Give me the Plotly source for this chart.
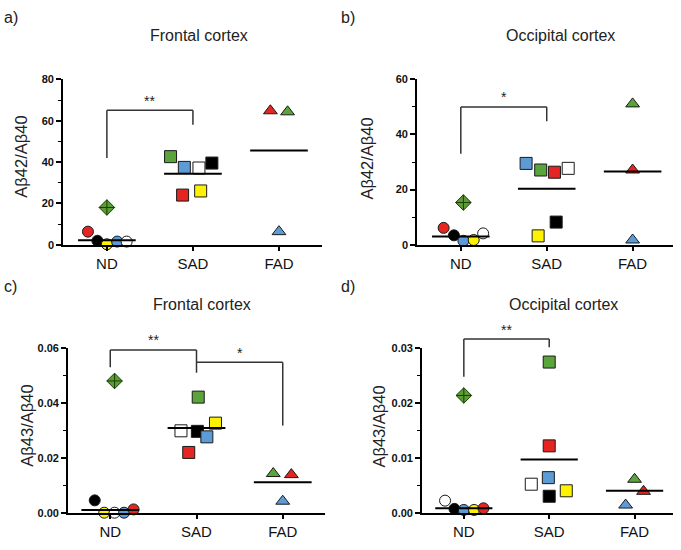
import plotly.graph_objects as go

# ---------------- data ----------------
CATEGORIES = ["ND", "SAD", "FAD"]
RED, GREEN, BLUE, YELLOW, BLACK, WHITE = "#E52521", "#5BA33B", "#5D9BD6", "#FFF200", "#000000", "#FFFFFF"
DIAMOND_GREEN = "#5A9E2F"

PANEL_TITLES = ["Frontal cortex", "Occipital cortex", "Frontal cortex", "Occipital cortex"]
PANEL_LABELS = ["a)", "b)", "c)", "d)"]
Y_TITLES = ["Aβ42/Aβ40", "Aβ42/Aβ40", "Aβ43/Aβ40", "Aβ43/Aβ40"]
Y_MAX = [80, 60, 0.06, 0.03]
Y_MAJOR = [[0, 20, 40, 60, 80], [0, 20, 40, 60], [0, 0.02, 0.04, 0.06], [0, 0.01, 0.02, 0.03]]
Y_MINOR = [[10, 30, 50, 70], [10, 30, 50], [0.01, 0.03, 0.05], [0.005, 0.015, 0.025]]
Y_FORMAT = ["d", "d", ".2f", ".2f"]

# Panel a: Abeta42/Abeta40, frontal
A_ND_COLORS = [RED, BLACK, YELLOW, BLUE, WHITE]
A_ND_JITTER = [-0.22, -0.11, 0.0, 0.12, 0.23]
A_ND_VALUES = [6.3, 1.9, 0.2, 1.5, 1.5]
A_ND_DIAMOND_JITTER, A_ND_DIAMOND = 0.0, 18.0
A_SAD_COLORS = [GREEN, BLUE, WHITE, BLACK, RED, YELLOW]
A_SAD_JITTER = [-0.26, -0.10, 0.07, 0.22, -0.12, 0.09]
A_SAD_VALUES = [42.6, 37.4, 37.1, 39.5, 24.0, 26.0]
A_FAD_COLORS = [RED, GREEN, BLUE]
A_FAD_JITTER = [-0.10, 0.10, 0.0]
A_FAD_VALUES = [64.8, 64.3, 6.3]
A_MEANS = [2.2, 34.3, 45.6]

# Panel b: Abeta42/Abeta40, occipital
B_ND_COLORS = [RED, BLACK, BLUE, YELLOW, WHITE]
B_ND_JITTER = [-0.20, -0.08, 0.03, 0.15, 0.26]
B_ND_VALUES = [6.1, 3.4, 1.4, 1.7, 4.1]
B_ND_DIAMOND_JITTER, B_ND_DIAMOND = 0.03, 15.3
B_SAD_COLORS = [BLUE, GREEN, RED, WHITE, BLACK, YELLOW]
B_SAD_JITTER = [-0.24, -0.07, 0.09, 0.25, 0.11, -0.10]
B_SAD_VALUES = [29.5, 27.1, 26.3, 27.7, 8.2, 3.2]
B_FAD_COLORS = [GREEN, RED, BLUE]
B_FAD_JITTER = [0.0, 0.0, 0.0]
B_FAD_VALUES = [51.1, 27.1, 1.7]
B_MEANS = [3.0, 20.3, 26.6]

# Panel c: Abeta43/Abeta40, frontal
C_ND_COLORS = [BLACK, YELLOW, WHITE, BLUE, RED]
C_ND_JITTER = [-0.18, -0.07, 0.05, 0.16, 0.27]
C_ND_VALUES = [0.0045, 0.0, 0.0, 0.0, 0.0012]
C_ND_DIAMOND_JITTER, C_ND_DIAMOND = 0.05, 0.0481
C_SAD_COLORS = [GREEN, WHITE, BLACK, YELLOW, BLUE, RED]
C_SAD_JITTER = [0.02, -0.18, 0.01, 0.22, 0.12, -0.09]
C_SAD_VALUES = [0.0422, 0.0299, 0.0297, 0.0327, 0.0277, 0.0220]
C_FAD_COLORS = [GREEN, RED, BLUE]
C_FAD_JITTER = [-0.11, 0.10, 0.0]
C_FAD_VALUES = [0.0143, 0.0139, 0.0042]
C_MEANS = [0.001, 0.0309, 0.0111]

# Panel d: Abeta43/Abeta40, occipital
D_ND_COLORS = [WHITE, BLACK, BLUE, YELLOW, RED]
D_ND_JITTER = [-0.22, -0.11, 0.0, 0.12, 0.23]
D_ND_VALUES = [0.0022, 0.0007, 0.0005, 0.0005, 0.0008]
D_ND_DIAMOND_JITTER, D_ND_DIAMOND = 0.0, 0.0214
D_SAD_COLORS = [GREEN, RED, WHITE, BLUE, BLACK, YELLOW]
D_SAD_JITTER = [0.0, 0.0, -0.21, -0.01, 0.0, 0.20]
D_SAD_VALUES = [0.0275, 0.0122, 0.0052, 0.0064, 0.0030, 0.0040]
D_FAD_COLORS = [GREEN, RED, BLUE]
D_FAD_JITTER = [0.0, 0.105, -0.105]
D_FAD_VALUES = [0.0061, 0.0039, 0.0014]
D_MEANS = [0.00083, 0.0097, 0.0040]

# significance brackets: (x_left, x_right, y_left_bottom, y_top, y_right_bottom, y_star, label)
A_BRACKETS = [(0, 1, 42, 65, 58, 69.5, "**")]
B_BRACKETS = [(0, 1, 33, 50, 44.8, 53.5, "*")]
C_BRACKETS = [(0, 1, 0.0531, 0.0594, 0.0511, 0.0630, "**"),
              (1, 2, None, 0.0549, 0.0318, 0.0582, "*")]
D_BRACKETS = [(0, 1, 0.0248, 0.0317, 0.0302, 0.0334, "**")]

PANELS = [
    (A_ND_COLORS, A_ND_JITTER, A_ND_VALUES, A_ND_DIAMOND_JITTER, A_ND_DIAMOND,
     A_SAD_COLORS, A_SAD_JITTER, A_SAD_VALUES, A_FAD_COLORS, A_FAD_JITTER, A_FAD_VALUES, A_MEANS, A_BRACKETS),
    (B_ND_COLORS, B_ND_JITTER, B_ND_VALUES, B_ND_DIAMOND_JITTER, B_ND_DIAMOND,
     B_SAD_COLORS, B_SAD_JITTER, B_SAD_VALUES, B_FAD_COLORS, B_FAD_JITTER, B_FAD_VALUES, B_MEANS, B_BRACKETS),
    (C_ND_COLORS, C_ND_JITTER, C_ND_VALUES, C_ND_DIAMOND_JITTER, C_ND_DIAMOND,
     C_SAD_COLORS, C_SAD_JITTER, C_SAD_VALUES, C_FAD_COLORS, C_FAD_JITTER, C_FAD_VALUES, C_MEANS, C_BRACKETS),
    (D_ND_COLORS, D_ND_JITTER, D_ND_VALUES, D_ND_DIAMOND_JITTER, D_ND_DIAMOND,
     D_SAD_COLORS, D_SAD_JITTER, D_SAD_VALUES, D_FAD_COLORS, D_FAD_JITTER, D_FAD_VALUES, D_MEANS, D_BRACKETS),
]

# ---------------- layout geometry (pixels in a 681x550 canvas) ----------------
W, H = 681, 550
PLOT_BOXES = [(63, 322, 75, 244), (417, 673, 75, 244), (68, 325, 350, 518), (422, 673, 350, 518)]
X_RANGES = [(-0.51, 2.5), (-0.51, 2.47), (-0.49, 2.49), (-0.49, 2.45)]
TITLE_POS = [(199, 30), (560, 30), (202, 305), (563, 305)]
LABEL_POS = [(2, 12), (339, 12), (2, 287), (339, 287)]
YTITLE_POS = [(21, 154), (367, 156), (27, 429), (379, 430)]

FONT = "Liberation Sans, Arial, sans-serif"
MEAN_HALF = 0.335
MARKER_LINE = dict(color="#1a1a1a", width=1)

fig = go.Figure()
layout = dict(
    width=W, height=H, margin=dict(l=0, r=0, t=0, b=0, pad=0),
    paper_bgcolor="white", plot_bgcolor="white", showlegend=False,
    font=dict(family=FONT, color="#111"),
)
shapes, annotations = [], []

for i, p in enumerate(PANELS):
    (nd_c, nd_j, nd_v, dj, dv, sad_c, sad_j, sad_v, fad_c, fad_j, fad_v, means, brackets) = p
    n = "" if i == 0 else str(i + 1)
    xa, ya = "x" + n, "y" + n
    x0, x1, yt, yb = PLOT_BOXES[i]

    groups = [
        (0, "circle", nd_c, nd_j, nd_v, 11),
        (1, "square", sad_c, sad_j, sad_v, 12),
        (2, "triangle-up", fad_c, fad_j, fad_v, 12),
    ]
    for cat, sym, cols, jit, vals, size in groups:
        fig.add_trace(go.Scatter(
            x=[cat + j for j in jit], y=vals, mode="markers", xaxis=xa, yaxis=ya,
            cliponaxis=False, hoverinfo="skip",
            marker=dict(symbol=sym, size=size, color=cols, line=MARKER_LINE),
        ))
    fig.add_trace(go.Scatter(
        x=[0 + dj], y=[dv], mode="markers", xaxis=xa, yaxis=ya, cliponaxis=False,
        marker=dict(symbol="diamond-cross", size=12, color=DIAMOND_GREEN,
                    line=dict(color="#1d3b0c", width=1)),
    ))

    # group means
    for cat, m in enumerate(means):
        shapes.append(dict(type="line", xref=xa, yref=ya, x0=cat - MEAN_HALF, x1=cat + MEAN_HALF,
                           y0=m, y1=m, line=dict(color="black", width=2), layer="above"))

    # significance brackets (y in domain fraction so they are not clipped)
    ymax = Y_MAX[i]
    for (bl, br, ylb, ytop, yrb, ystar, lab) in brackets:
        pts = []
        if ylb is not None:
            pts.append((bl, ylb))
        pts += [(bl, ytop), (br, ytop), (br, yrb)]
        for (ax0, ay0), (ax1, ay1) in zip(pts[:-1], pts[1:]):
            shapes.append(dict(type="line", xref=xa, yref=ya + " domain",
                               x0=ax0, x1=ax1, y0=ay0 / ymax, y1=ay1 / ymax,
                               line=dict(color="#333", width=1.5)))
        annotations.append(dict(text=lab, xref=xa, yref=ya + " domain", x=(bl + br) / 2,
                                y=ystar / ymax, showarrow=False, font=dict(size=14, color="#222"),
                                xanchor="center", yanchor="middle"))

    layout["xaxis" + n] = dict(
        domain=[x0 / W, x1 / W], anchor=ya, range=list(X_RANGES[i]),
        tickmode="array", tickvals=[0, 1, 2], ticktext=CATEGORIES,
        showline=True, linecolor="black", linewidth=1.6, ticks="outside", ticklen=5,
        tickwidth=1.6, tickcolor="black", showgrid=False, zeroline=False,
        tickfont=dict(size=15, family=FONT, color="#111"), fixedrange=True,
    )
    layout["yaxis" + n] = dict(
        domain=[1 - yb / H, 1 - yt / H], anchor=xa, range=[0, ymax],
        tickmode="array", tickvals=Y_MAJOR[i], tickformat=Y_FORMAT[i],
        showline=True, linecolor="black", linewidth=1.6, ticks="outside", ticklen=5,
        tickwidth=1.6, tickcolor="black", showgrid=False, zeroline=False,
        minor=dict(tickmode="array", tickvals=Y_MINOR[i], ticks="outside", ticklen=3,
                   tickwidth=1.4, tickcolor="black", showgrid=False),
        tickfont=dict(size=11, family=FONT, color="#111", weight="bold"), fixedrange=True,
    )

    tx, ty = TITLE_POS[i]
    annotations.append(dict(text=PANEL_TITLES[i], xref="paper", yref="paper", x=tx / W, y=1 - ty / H,
                            showarrow=False, xanchor="center", yanchor="middle",
                            font=dict(size=16, color="#222")))
    lx, ly = LABEL_POS[i]
    annotations.append(dict(text=PANEL_LABELS[i], xref="paper", yref="paper", x=lx / W, y=1 - ly / H,
                            showarrow=False, xanchor="left", yanchor="middle",
                            font=dict(size=16, color="#222")))
    yx, yy = YTITLE_POS[i]
    annotations.append(dict(text=Y_TITLES[i], xref="paper", yref="paper", x=yx / W, y=1 - yy / H,
                            showarrow=False, xanchor="center", yanchor="middle", textangle=-90,
                            font=dict(size=16.5, color="#222")))

layout["shapes"] = shapes
layout["annotations"] = annotations
fig.update_layout(**layout)
fig.write_html("out.html", config={"displayModeBar": False},
               post_script="document.body.style.margin='0';document.body.style.overflow='hidden';")
